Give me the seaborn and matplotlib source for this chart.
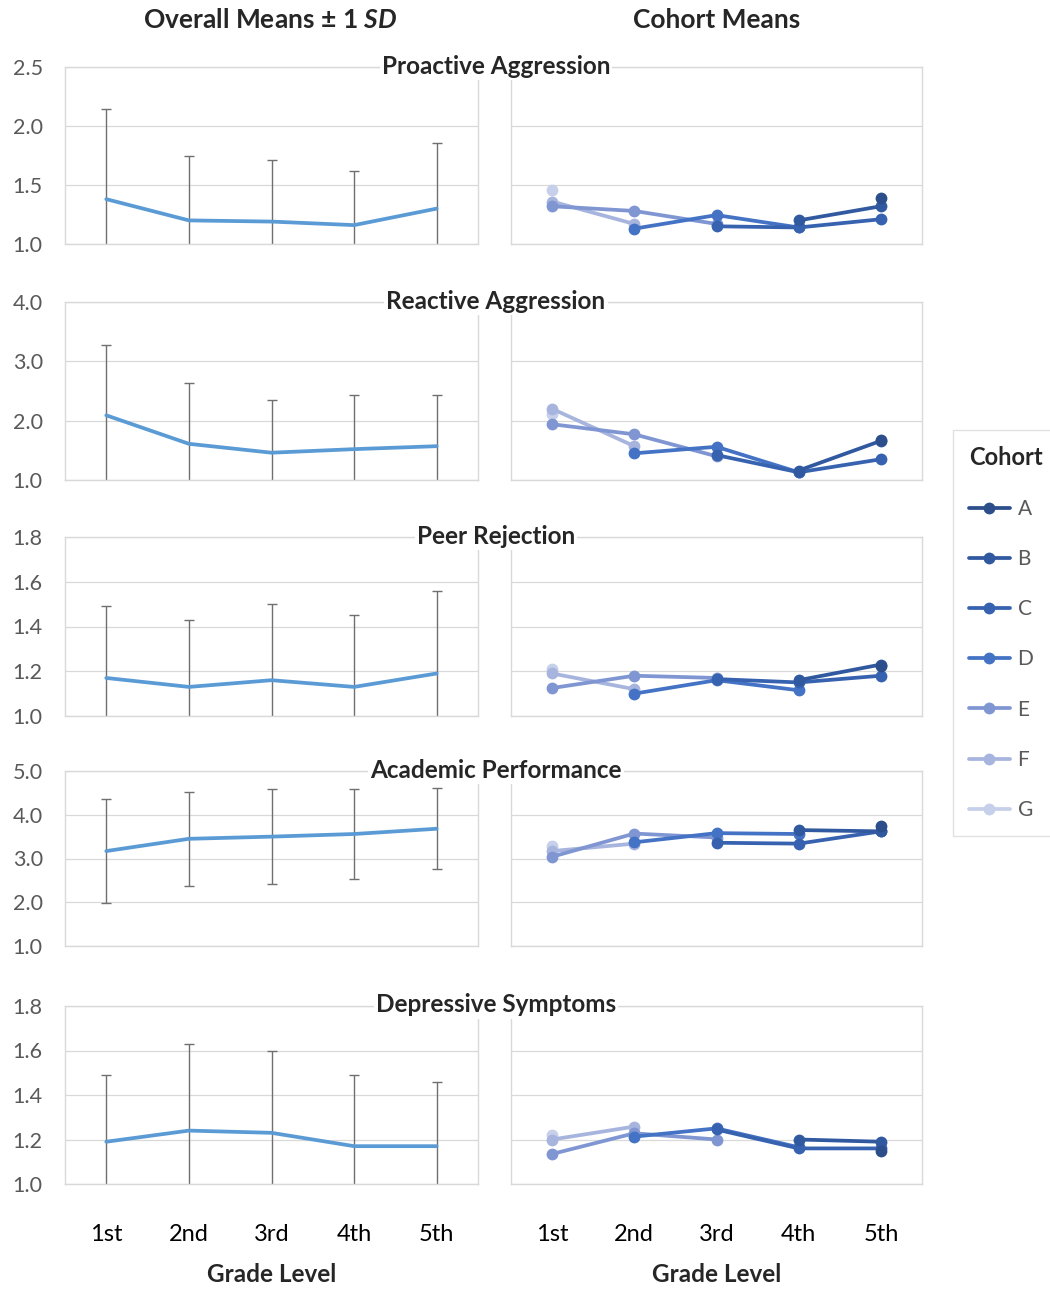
"""
Grade-level trajectories: overall means +/- 1 SD and cohort means.
"""
import numpy as np
import pandas as pd
import matplotlib
matplotlib.use("Agg")
import matplotlib.pyplot as plt
import seaborn as sns

nan = np.nan

GRADES = ["1st", "2nd", "3rd", "4th", "5th"]
COHORTS = ["A", "B", "C", "D", "E", "F", "G"]
MEASURES = ["Proactive Aggression", "Reactive Aggression", "Peer Rejection",
            "Academic Performance", "Depressive Symptoms"]

# overall means and SDs by grade
proactive_mean = [1.38, 1.20, 1.19, 1.16, 1.30]
proactive_sd = [0.76, 0.55, 0.52, 0.46, 0.56]
reactive_mean = [2.09, 1.61, 1.46, 1.52, 1.57]
reactive_sd = [1.19, 1.02, 0.89, 0.92, 0.86]
peer_mean = [1.17, 1.13, 1.16, 1.13, 1.19]
peer_sd = [0.32, 0.30, 0.34, 0.32, 0.37]
academic_mean = [3.17, 3.45, 3.50, 3.56, 3.68]
academic_sd = [1.19, 1.07, 1.09, 1.03, 0.93]
depressive_mean = [1.19, 1.24, 1.23, 1.17, 1.17]
depressive_sd = [0.30, 0.39, 0.37, 0.32, 0.29]

# cohort means by grade (nan = cohort not observed at that grade)
proactive_cohort = {
    "A": [nan, nan, nan, nan, 1.39],
    "B": [nan, nan, nan, 1.20, 1.32],
    "C": [nan, nan, 1.15, 1.14, 1.21],
    "D": [nan, 1.13, 1.245, 1.14, nan],
    "E": [1.32, 1.28, 1.17, nan, nan],
    "F": [1.36, 1.17, nan, nan, nan],
    "G": [1.46, nan, nan, nan, nan],
}
reactive_cohort = {
    "A": [nan, nan, nan, nan, 1.68],
    "B": [nan, nan, nan, 1.16, 1.66],
    "C": [nan, nan, 1.42, 1.13, 1.35],
    "D": [nan, 1.45, 1.56, 1.13, nan],
    "E": [1.94, 1.77, 1.40, nan, nan],
    "F": [2.20, 1.57, nan, nan, nan],
    "G": [2.11, nan, nan, nan, nan],
}
peer_cohort = {
    "A": [nan, nan, nan, nan, 1.225],
    "B": [nan, nan, nan, 1.16, 1.23],
    "C": [nan, nan, 1.165, 1.15, 1.18],
    "D": [nan, 1.10, 1.16, 1.115, nan],
    "E": [1.125, 1.18, 1.17, nan, nan],
    "F": [1.19, 1.12, nan, nan, nan],
    "G": [1.21, nan, nan, nan, nan],
}
academic_cohort = {
    "A": [nan, nan, nan, nan, 3.74],
    "B": [nan, nan, nan, 3.65, 3.62],
    "C": [nan, nan, 3.36, 3.34, 3.62],
    "D": [nan, 3.37, 3.58, 3.56, nan],
    "E": [3.04, 3.57, 3.48, nan, nan],
    "F": [3.17, 3.34, nan, nan, nan],
    "G": [3.29, nan, nan, nan, nan],
}
depressive_cohort = {
    "A": [nan, nan, nan, nan, 1.15],
    "B": [nan, nan, nan, 1.20, 1.19],
    "C": [nan, nan, 1.245, 1.16, 1.16],
    "D": [nan, 1.213, 1.25, 1.165, nan],
    "E": [1.135, 1.228, 1.20, nan, nan],
    "F": [1.20, 1.258, nan, nan, nan],
    "G": [1.22, nan, nan, nan, nan],
}

MEANS = [proactive_mean, reactive_mean, peer_mean, academic_mean, depressive_mean]
SDS = [proactive_sd, reactive_sd, peer_sd, academic_sd, depressive_sd]
COHORT_DATA = [proactive_cohort, reactive_cohort, peer_cohort, academic_cohort, depressive_cohort]
Y_RANGES = [(1.0, 2.5, 0.5), (1.0, 4.0, 1.0), (1.0, 1.8, 0.2), (1.0, 5.0, 1.0), (1.0, 1.8, 0.2)]

PALETTE = dict(zip(COHORTS, ["#2C4F8C", "#3159A0", "#3762B0", "#4472C4",
                             "#7F96D2", "#A7B5DE", "#C7D0EA"]))
LINE_BLUE = "#5B9BD5"
GRID = "#D9D9D9"
TICK_GREY = "#595959"

sns.set_theme(style="white")
plt.rcParams["font.family"] = ["Lato", "DejaVu Sans"]
plt.rcParams["mathtext.fontset"] = "custom"
plt.rcParams["mathtext.it"] = "Lato:italic:bold"
plt.rcParams["mathtext.rm"] = "Lato:bold"

W, H = 1050, 1291
fig = plt.figure(figsize=(W / 100, H / 100), dpi=100)

rows_px = [(67, 244), (302, 480), (537, 716), (771, 946), (1006, 1184)]
left_px = (65, 478)
right_px = (511, 922)
x = np.arange(len(GRADES))


def make_ax(xpx, ypx):
    ax = fig.add_axes([xpx[0] / W, 1 - ypx[1] / H, (xpx[1] - xpx[0]) / W, (ypx[1] - ypx[0]) / H])
    ax.set_xlim(-0.5, len(GRADES) - 0.5)
    for s in ax.spines.values():
        s.set_color(GRID)
        s.set_linewidth(1.0)
    ax.grid(axis="y", color=GRID, linewidth=0.9)
    ax.set_axisbelow(True)
    ax.tick_params(length=0)
    return ax


handles = None
for i, (name, ypx) in enumerate(zip(MEASURES, rows_px)):
    lo, hi, step = Y_RANGES[i]
    ticks = np.arange(lo, hi + step / 2, step)

    # overall means with SD whiskers
    ax_l = make_ax(left_px, ypx)
    df_l = pd.DataFrame({"grade": x, "mean": MEANS[i], "sd": SDS[i]})
    ax_l.errorbar(df_l["grade"], df_l["mean"], yerr=df_l["sd"], fmt="none",
                  ecolor="#707070", elinewidth=1.0, capsize=3.8, capthick=1.0, zorder=2)
    sns.lineplot(data=df_l, x="grade", y="mean", color=LINE_BLUE, linewidth=2.7,
                 ax=ax_l, zorder=3)
    ax_l.set_ylim(lo, hi)
    ax_l.set_yticks(ticks)
    ax_l.set_yticklabels([f"{t:.1f}" for t in ticks], fontsize=15.5, color=TICK_GREY)
    ax_l.tick_params(axis="y", pad=16)
    ax_l.set_xlabel("")
    ax_l.set_ylabel("")

    # cohort means
    ax_r = make_ax(right_px, ypx)
    long = []
    for c in COHORTS:
        for g, v in zip(x, COHORT_DATA[i][c]):
            long.append({"grade": g, "value": v, "Cohort": c})
    df_r = pd.DataFrame(long).dropna()
    sns.lineplot(data=df_r, x="grade", y="value", hue="Cohort", hue_order=COHORTS[::-1],
                 palette=PALETTE, marker="o", markersize=8.5, markeredgewidth=0,
                 linewidth=2.7, ax=ax_r, legend=(i == 0))
    ax_r.set_ylim(lo, hi)
    ax_r.set_yticks(ticks)
    ax_r.set_yticklabels([])
    ax_r.set_xlabel("")
    ax_r.set_ylabel("")
    if i == 0:
        h, lab = ax_r.get_legend_handles_labels()
        handles = dict(zip(lab, h))
        ax_r.get_legend().remove()

    if i == len(MEASURES) - 1:
        for ax in (ax_l, ax_r):
            ax.set_xticks(x)
            ax.set_xticklabels(GRADES, fontsize=17, color="black")
            ax.tick_params(axis="x", pad=29)
            ax.set_xlabel("Grade Level", fontsize=17.5, fontweight="bold", labelpad=13)
    else:
        ax_l.set_xticks([])
        ax_r.set_xticks([])

    fig.text(496 / W, 1 - (ypx[0] - 1) / H, name, ha="center", va="center",
             fontsize=17.5, fontweight="bold",
             bbox=dict(facecolor="white", edgecolor="none", pad=1.5))

fig.text(270 / W, 1 - 20 / H, r"Overall Means ± 1 $\it{SD}$", ha="center", va="center",
         fontsize=19, fontweight="bold")
fig.text(717 / W, 1 - 20 / H, "Cohort Means", ha="center", va="center",
         fontsize=19, fontweight="bold")

leg = fig.legend([handles[c] for c in COHORTS], COHORTS, title="Cohort",
                 loc="upper left", bbox_to_anchor=(953 / W, 1 - 430 / H), borderaxespad=0,
                 fontsize=15, title_fontproperties={"weight": "bold", "size": 17},
                 frameon=True, fancybox=False, edgecolor=GRID, labelspacing=1.45,
                 handlelength=2.0, handletextpad=0.35, borderpad=0.75, labelcolor=TICK_GREY)
leg._legend_box.align = "left"
leg.get_frame().set_linewidth(1.0)

fig.savefig("out.png", dpi=100)
plt.close(fig)
